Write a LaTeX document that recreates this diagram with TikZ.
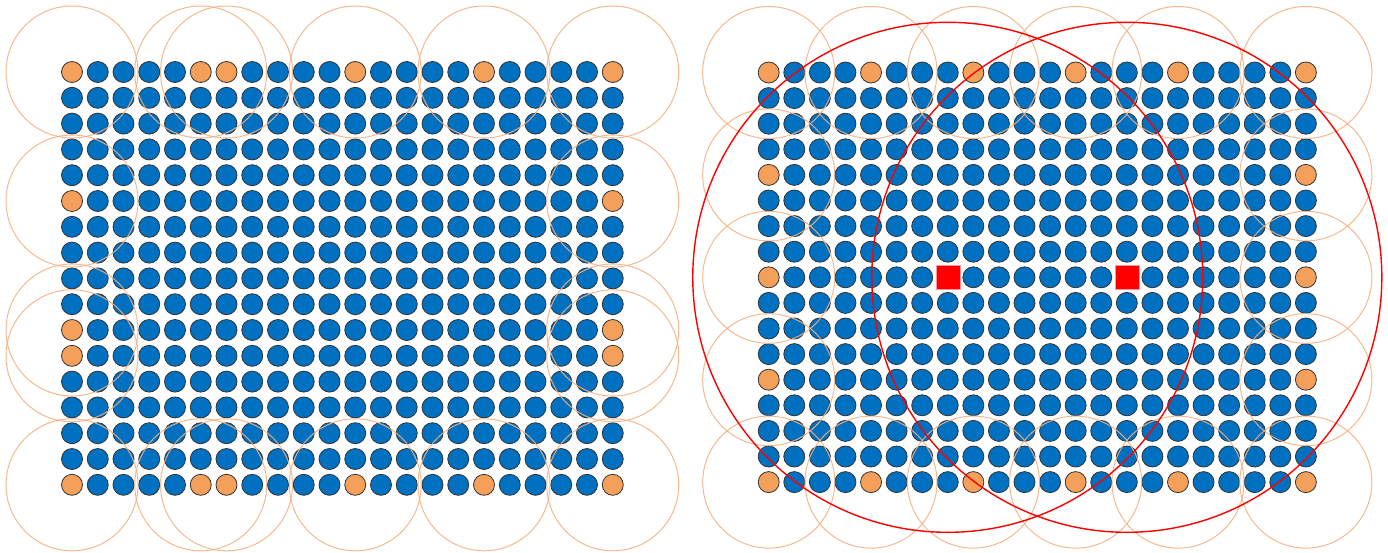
\documentclass[tikz,border=0pt]{standalone}
\definecolor{dotblue}{HTML}{0070C0}
\definecolor{dotorange}{HTML}{F4A05A}
\definecolor{ringorange}{HTML}{F4B183}
\begin{document}
\begin{tikzpicture}[x=1pt,y=-1pt,
  dot/.style={circle,draw=black!80,line width=0.8pt,minimum size=21pt,inner sep=0pt,fill=dotblue},
  odot/.style={dot,fill=dotorange},
  sq/.style={rectangle,fill=red,draw=red!40,line width=0.5pt,minimum size=24pt,inner sep=0pt},
  ring/.style={draw=ringorange,line width=1pt,opacity=0.9},
  bigring/.style={draw=red,line width=1.4pt}]
\useasboundingbox (0,0) rectangle (1388,552);
% left grid
\foreach \c in {0,...,21}{
  \foreach \r in {0,...,16}{
    \pgfmathtruncatemacro\o{(((\r==0)||(\r==16))&&((\c==0)||(\c==5)||(\c==6)||(\c==11)||(\c==16)||(\c==21))) || (((\c==0)||(\c==21))&&((\r==5)||(\r==10)||(\r==11)))}
    \ifnum\o=1 \def\st{odot}\else\def\st{dot}\fi
    \node[\st] (L-\c-\r) at ({72+\c*25.75},{72+\r*25.8}) {};
  }
}
% right grid
\foreach \c in {0,...,21}{
  \foreach \r in {0,...,16}{
    \pgfmathtruncatemacro\o{(((\r==0)||(\r==16))&&((\c==0)||(\c==4)||(\c==8)||(\c==12)||(\c==16)||(\c==21))) || (((\c==0)||(\c==21))&&((\r==4)||(\r==8)||(\r==12)))}
    \pgfmathtruncatemacro\q{(\r==8)&&((\c==7)||(\c==14))}
    \ifnum\o=1 \def\st{odot}\else\def\st{dot}\fi
    \ifnum\q=1 \def\st{sq}\fi
    \node[\st] (R-\c-\r) at ({768.7+\c*25.58},{72.5+\r*25.6}) {};
  }
}
% left rings
\foreach \c in {0,5,6,11,16,21}{\foreach \r in {0,16}{\draw[ring] (L-\c-\r) circle[radius=66pt];}}
\foreach \c in {0,21}{\foreach \r in {5,10,11}{\draw[ring] (L-\c-\r) circle[radius=66pt];}}
% right rings
\foreach \c in {0,4,8,12,16,21}{\foreach \r in {0,16}{\draw[ring] (R-\c-\r) circle[radius=66pt];}}
\foreach \c in {0,21}{\foreach \r in {4,8,12}{\draw[ring] (R-\c-\r) circle[radius=66pt];}}
% red coverage circles
\draw[bigring] (R-7-8) circle[radius=255pt];
\draw[bigring] (R-14-8) circle[radius=255pt];
\end{tikzpicture}
\end{document}
